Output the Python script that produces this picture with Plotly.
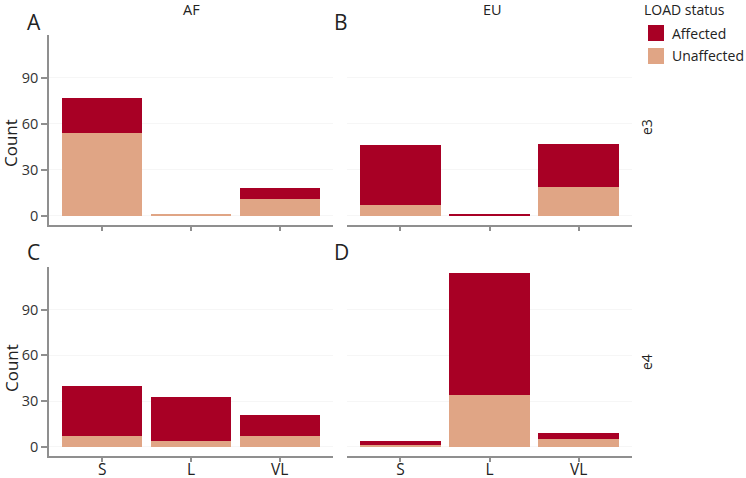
import plotly.graph_objects as go

categories = ["S", "L", "VL"]
# counts per panel: (population, genotype)
af_e3_unaffected = [54, 1, 11]
af_e3_affected = [23, 0, 7]
eu_e3_unaffected = [7, 0, 19]
eu_e3_affected = [39, 1, 28]
af_e4_unaffected = [7, 4, 7]
af_e4_affected = [33, 29, 14]
eu_e4_unaffected = [1, 34, 5]
eu_e4_affected = [3, 80, 4]
y_ticks = [0, 30, 60, 90]

panels = [
    ("x", "y", af_e3_unaffected, af_e3_affected),
    ("x2", "y2", eu_e3_unaffected, eu_e3_affected),
    ("x3", "y3", af_e4_unaffected, af_e4_affected),
    ("x4", "y4", eu_e4_unaffected, eu_e4_affected),
]

C_AFF = "#A80025"
C_UNA = "#E0A585"
W, H = 746, 478
FONT = "Open Sans"
AXC = "#8f8f8f"

def px(x):
    return x / W

def py(y):
    return 1 - y / H

fig = go.Figure()
for xa, ya, una, aff in panels:
    fig.add_trace(go.Bar(x=categories, y=una, xaxis=xa, yaxis=ya, marker_color=C_UNA,
                         marker_line_width=0, name="Unaffected", showlegend=False))
    fig.add_trace(go.Bar(x=categories, y=aff, xaxis=xa, yaxis=ya, marker_color=C_AFF,
                         marker_line_width=0, name="Affected", showlegend=False))

xdom_l = [px(49), px(333)]
xdom_r = [px(347), px(632)]
ydom_t = [py(225), py(35)]
ydom_b = [py(456), py(267)]

def xaxis(domain, anchor, labels):
    return dict(domain=domain, anchor=anchor, type="category", range=[-0.6, 2.6],
                automargin=False, ticklabelstandoff=-5,
                showline=True, linecolor=AXC, linewidth=1.5, ticks="outside", ticklen=4,
                tickwidth=1.5, tickcolor=AXC, showticklabels=labels, showgrid=False,
                zeroline=False, tickfont=dict(family=FONT, size=15.5, color="#222"))

def yaxis(domain, anchor, left):
    return dict(domain=domain, anchor=anchor, range=[-6, 118], tickvals=y_ticks,
                automargin=False,
                showline=left, linecolor=AXC, linewidth=1.5,
                ticks="outside" if left else "", ticklen=6, tickwidth=1.5, tickcolor=AXC,
                showticklabels=left, showgrid=True, gridcolor="#f6f6f6", gridwidth=1,
                zeroline=False, tickfont=dict(family=FONT, size=14.5, color="#333"))

annotations = []
def txt(t, x, y, size, angle=0, xanchor="center"):
    annotations.append(dict(text=t, x=px(x), y=py(y), xref="paper", yref="paper",
                            showarrow=False, textangle=angle, xanchor=xanchor, yanchor="middle",
                            font=dict(family=FONT, size=size, color="#222")))

txt("AF", 191, 9.5, 14.5)
txt("EU", 492, 9.5, 14.5)
txt("A", 34, 22, 21)
txt("B", 341, 22, 21)
txt("C", 33, 252, 21)
txt("D", 341, 252, 21)
txt("Count", 11, 143, 17, -90)
txt("Count", 11, 368, 17, -90)
txt("e3", 646, 127, 14, -90)
txt("e4", 646, 362, 14, -90)
txt("LOAD status", 642, 9, 14, xanchor="left")
txt("Affected", 670, 33, 14, xanchor="left")
txt("Unaffected", 670, 56, 14, xanchor="left")

shapes = [
    dict(type="rect", xref="paper", yref="paper", x0=px(648), x1=px(664), y0=py(41), y1=py(25),
         fillcolor=C_AFF, line_width=0),
    dict(type="rect", xref="paper", yref="paper", x0=px(648), x1=px(664), y0=py(64), y1=py(48),
         fillcolor=C_UNA, line_width=0),
]

fig.update_layout(
    width=W, height=H, margin=dict(l=0, r=0, t=0, b=0, autoexpand=False),
    paper_bgcolor="white", plot_bgcolor="white",
    barmode="stack", bargap=0.1, showlegend=False,
    font=dict(family=FONT),
    xaxis=xaxis(xdom_l, "y", False),
    xaxis2=xaxis(xdom_r, "y2", False),
    xaxis3=xaxis(xdom_l, "y3", True),
    xaxis4=xaxis(xdom_r, "y4", True),
    yaxis=yaxis(ydom_t, "x", True),
    yaxis2=yaxis(ydom_t, "x2", False),
    yaxis3=yaxis(ydom_b, "x3", True),
    yaxis4=yaxis(ydom_b, "x4", False),
    annotations=annotations, shapes=shapes,
)

fig.write_html("out.html", config={"displayModeBar": False},
               post_script="document.body.style.margin='0';document.body.style.overflow='hidden';")
